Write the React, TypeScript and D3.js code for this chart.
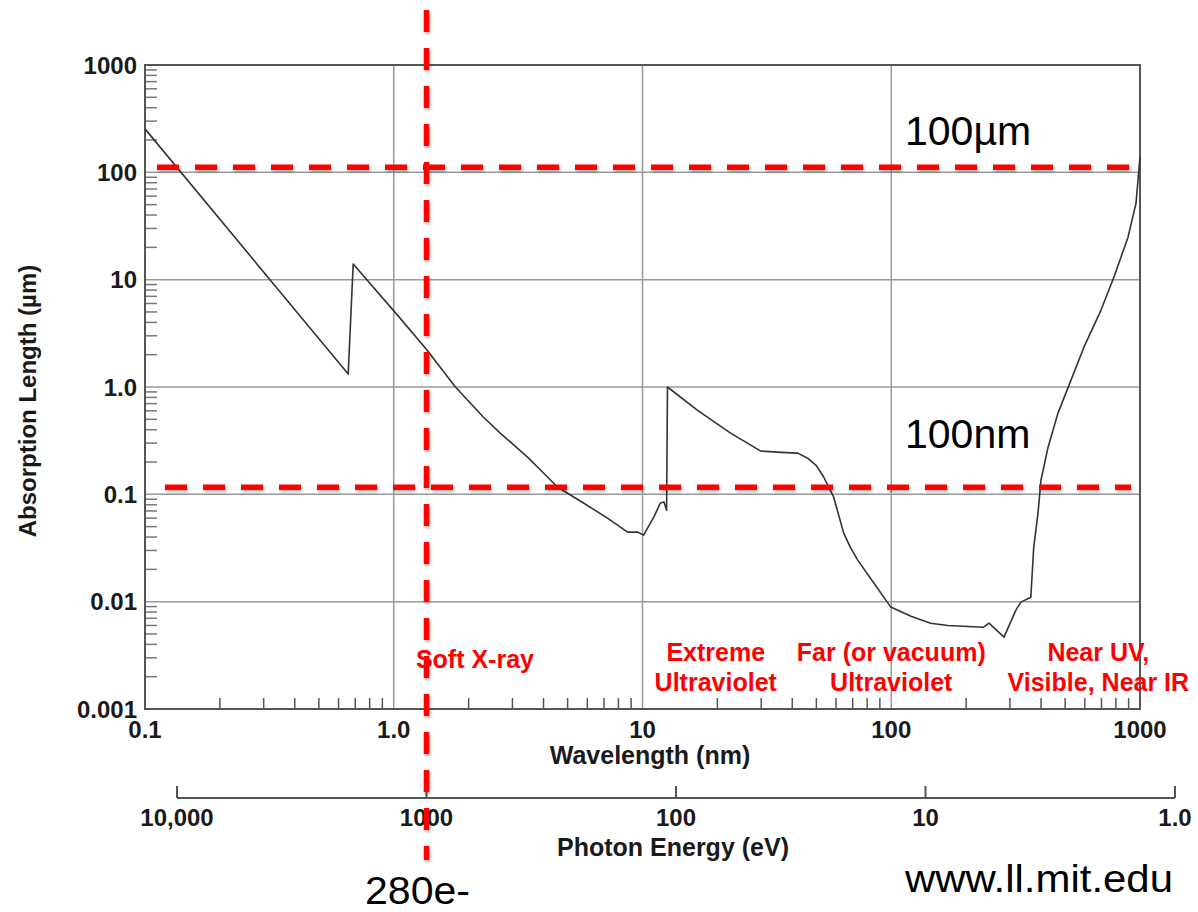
import * as d3 from "d3";

// wavelength (nm) and absorption length (µm)
const wavelength = [
  0.1, 0.656, 0.687, 1.06, 1.36, 1.77, 2.29, 2.68, 3.45, 4.0, 4.55, 5.79, 7.23, 8.71, 9.55, 10.1,
  11.1, 11.8, 12.2, 12.5, 12.6, 16.6, 22.6, 29.9, 36, 42.1, 46.1, 50, 53.5, 58.7, 64.4, 68.5, 73.3,
  85.1, 99.6, 120, 144, 169, 235, 247, 284, 317, 332, 364, 374, 389, 400, 427, 468, 528, 595, 697,
  786, 895, 964, 1000,
];
const absorption = [
  254, 1.32, 14.0, 4.38, 2.21, 1.0, 0.525, 0.372, 0.222, 0.158, 0.117, 0.083, 0.06, 0.0445,
  0.0445, 0.0417, 0.0613, 0.083, 0.085, 0.071, 1.0, 0.61, 0.372, 0.253, 0.246, 0.242, 0.217, 0.185,
  0.145, 0.094, 0.0435, 0.032, 0.0244, 0.0149, 0.0089, 0.0073, 0.0063, 0.006, 0.00578, 0.0063,
  0.00467, 0.00834, 0.0099, 0.011, 0.0322, 0.0668, 0.136, 0.275, 0.571, 1.16, 2.35, 5.21, 10.6,
  24.9, 51.7, 140,
];

const xTickValues = [0.1, 1, 10, 100, 1000];
const xTickLabels = ["0.1", "1.0", "10", "100", "1000"];
const yTickValues = [1000, 100, 10, 1, 0.1, 0.01, 0.001];
const yTickLabels = ["1000", "100", "10", "1.0", "0.1", "0.01", "0.001"];
const energyTickValues = [10000, 1000, 100, 10, 1];
const energyTickLabels = ["10,000", "1000", "100", "10", "1.0"];

const refLevels = [100, 0.1]; // µm
const refLabels = ["100µm", "100nm"];
const cutoffEnergy = 1000; // eV marker

const regionNames = [
  ["Soft X-ray"],
  ["Extreme", "Ultraviolet"],
  ["Far (or vacuum)", "Ultraviolet"],
  ["Near UV,", "Visible, Near IR"],
];
const regionCenters = [2.12, 19.7, 100, 680]; // nm

const W = 1198;
const H = 912;
const FONT = "'Liberation Sans', Arial, Helvetica, sans-serif";
const NARROW = "'Liberation Sans Narrow', 'Arial Narrow', 'Liberation Sans', sans-serif";

export default function App() {
  const x = d3.scaleLog().domain([0.1, 1000]).range([145, 1140]);
  const y = d3.scaleLog().domain([0.001, 1000]).range([709, 65]);
  const ex = d3.scaleLog().domain([10000, 1]).range([177, 1175]);

  const minorX: number[] = [];
  for (let p = -1; p < 3; p++) for (let k = 2; k <= 9; k++) minorX.push(k * 10 ** p);
  const minorY: number[] = [];
  for (let p = -3; p < 3; p++) for (let k = 2; k <= 9; k++) minorY.push(k * 10 ** p);

  const pts = wavelength.map((w, i) => [w, absorption[i]] as [number, number]);
  const line = d3
    .line<[number, number]>()
    .x((d) => x(d[0]))
    .y((d) => y(d[1]));

  const [x0, x1] = x.range();
  const [yb, yt] = y.range();
  const red = "#ff0000";
  const ink = "#1a1a1a";
  const vx = ex(cutoffEnergy);

  return (
    <svg
      width={W}
      height={H}
      style={{ position: "absolute", left: 0, top: 0, background: "#fff" }}
    >
      <defs>
        <filter id="sh" x="-5%" y="-50%" width="110%" height="200%">
          <feDropShadow dx="1" dy="2" stdDeviation="1.5" floodColor="#000" floodOpacity="0.3" />
        </filter>
      </defs>

      {/* grid */}
      {xTickValues.slice(1, -1).map((v) => (
        <line key={"gx" + v} x1={x(v)} x2={x(v)} y1={yt} y2={yb} stroke="#999" strokeWidth={1.5} />
      ))}
      {yTickValues.slice(1, -1).map((v) => (
        <line key={"gy" + v} x1={x0} x2={x1} y1={y(v)} y2={y(v)} stroke="#999" strokeWidth={1.5} />
      ))}

      {/* minor ticks */}
      {minorX.map((v) => (
        <line key={"mx" + v} x1={x(v)} x2={x(v)} y1={yb} y2={yb - 11} stroke="#555" strokeWidth={1.5} />
      ))}
      {minorY.map((v) => (
        <line key={"my" + v} x1={x0} x2={x0 + 12} y1={y(v)} y2={y(v)} stroke="#777" strokeWidth={1.5} />
      ))}

      {/* frame */}
      <rect x={x0} y={yt} width={x1 - x0} height={yb - yt} fill="none" stroke="#555" strokeWidth={2} />

      {/* curve */}
      <path d={line(pts) ?? ""} fill="none" stroke="#333" strokeWidth={1.6} strokeLinejoin="round" />

      {/* tick labels */}
      {xTickValues.map((v, i) => (
        <text key={"xl" + v} x={x(v)} y={738} textAnchor="middle" fontFamily={FONT} fontWeight="bold" fontSize={24} fill={ink}>
          {xTickLabels[i]}
        </text>
      ))}
      {yTickValues.map((v, i) => (
        <text key={"yl" + v} x={137} y={y(v) + 8.5} textAnchor="end" fontFamily={FONT} fontWeight="bold" fontSize={24} fill={ink}>
          {yTickLabels[i]}
        </text>
      ))}
      <text x={650} y={764} textAnchor="middle" fontFamily={FONT} fontWeight="bold" fontSize={25} fill={ink}>
        Wavelength (nm)
      </text>
      <text
        transform={`translate(36,401) rotate(-90)`}
        textAnchor="middle"
        fontFamily={FONT}
        fontWeight="bold"
        fontSize={24}
        fill={ink}
      >
        Absorption Length (µm)
      </text>

      {/* photon energy axis */}
      <line x1={ex(10000)} x2={ex(1)} y1={798} y2={798} stroke="#555" strokeWidth={2} />
      {energyTickValues.map((v, i) => (
        <g key={"e" + v}>
          <line x1={ex(v)} x2={ex(v)} y1={798} y2={786} stroke="#555" strokeWidth={2} />
          <text x={ex(v)} y={826} textAnchor="middle" fontFamily={FONT} fontWeight="bold" fontSize={24} fill={ink}>
            {energyTickLabels[i]}
          </text>
        </g>
      ))}
      <text x={673} y={856} textAnchor="middle" fontFamily={FONT} fontWeight="bold" fontSize={25} fill={ink}>
        Photon Energy (eV)
      </text>

      {/* region labels */}
      {regionNames.map((lines, i) => (
        <text key={"r" + i} textAnchor="middle" fontFamily={FONT} fontWeight="bold" fontSize={25} fill={red}>
          {lines.map((t, j) => (
            <tspan key={j} x={x(regionCenters[i])} y={(lines.length === 1 ? 668 : 661) + j * 30}>
              {t}
            </tspan>
          ))}
        </text>
      ))}

      {/* red reference lines */}
      <g filter="url(#sh)">
        {refLevels.map((v, i) => (
          <line
            key={"rl" + v}
            x1={157 + i * 8}
            x2={1131}
            y1={y(v) - 5 - i * 2}
            y2={y(v) - 5 - i * 2}
            stroke={red}
            strokeWidth={5.5}
            strokeDasharray="22 16"
          />
        ))}
        <line x1={vx} x2={vx} y1={10} y2={860} stroke={red} strokeWidth={5.5} strokeDasharray="22 16" />
      </g>

      {refLevels.map((v, i) => (
        <text key={"rt" + v} x={905} y={i === 0 ? 145 : 448} fontFamily={FONT} fontSize={41} fill="#000">
          {refLabels[i]}
        </text>
      ))}
      <text x={365} y={904} fontFamily={NARROW} fontSize={39} fill="#000" textLength={105} lengthAdjust="spacingAndGlyphs">
        280e-
      </text>
      <text x={905} y={892} fontFamily={NARROW} fontSize={39} fill="#000" textLength={268} lengthAdjust="spacingAndGlyphs">
        www.ll.mit.edu
      </text>
    </svg>
  );
}
